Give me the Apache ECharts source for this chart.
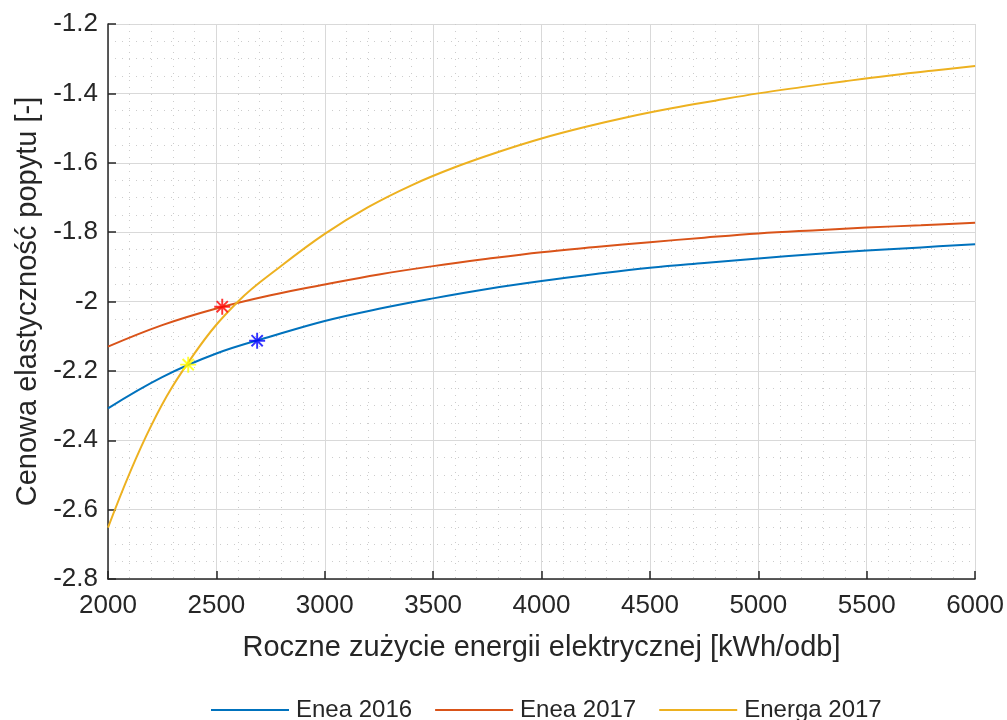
<!DOCTYPE html>
<html>
<head>
<meta charset="utf-8">
<script src="https://cdn.jsdelivr.net/npm/echarts@6/dist/echarts.min.js"></script>
<style>
html,body{margin:0;padding:0;background:#fff;}
#chart{width:1007px;height:720px;}
</style>
</head>
<body>
<div id="chart"></div>
<script>
// ---- data ----
const seriesNames = ['Enea 2016', 'Enea 2017', 'Energa 2017'];
const xTicks = [2000, 2500, 3000, 3500, 4000, 4500, 5000, 5500, 6000];
const yTicks = [-2.8, -2.6, -2.4, -2.2, -2.0, -1.8, -1.6, -1.4, -1.2];

const xEnea = [2000, 2250, 2500, 2750, 3000, 3250, 3500, 3750, 4000, 4250, 4500, 4750, 5000, 5250, 5500, 5750, 6000];
const enea2016 = [-2.308, -2.218, -2.150, -2.101, -2.056, -2.021, -1.991, -1.964, -1.941, -1.921, -1.903, -1.889, -1.876, -1.864, -1.853, -1.844, -1.835];
const enea2017 = [-2.130, -2.068, -2.020, -1.982, -1.951, -1.922, -1.898, -1.877, -1.858, -1.843, -1.829, -1.816, -1.804, -1.795, -1.787, -1.780, -1.773];

const xEnerga = [2000, 2200, 2400, 2600, 2800, 3000, 3200, 3400, 3600, 3800, 4000, 4200, 4400, 4600, 4800, 5000, 5200, 5400, 5600, 5800, 6000];
const energa2017 = [-2.652, -2.357, -2.149, -2.000, -1.897, -1.805, -1.728, -1.665, -1.613, -1.569, -1.530, -1.497, -1.468, -1.443, -1.421, -1.400, -1.382, -1.365, -1.349, -1.335, -1.321];

const markerPoints = [[2527, -2.015], [2688, -2.113], [2370, -2.182]];
const markerColors = ['#FF0000', '#0000FF', '#FFFF00'];

const lineColors = ['#0072BD', '#D95319', '#EDB120'];

// asterisk marker path (four bars, same winding)
const asterisk = 'path://M0 8.8L20 8.8L20 11.2L0 11.2Z M8.8 0L11.2 0L11.2 20L8.8 20Z M3.85 2.15L17.85 16.15L16.15 17.85L2.15 3.85Z M17.85 3.85L3.85 17.85L2.15 16.15L16.15 2.15Z';

const pair = (xs, ys) => xs.map((x, i) => [x, ys[i]]);
const font = 'Liberation Sans, Arial, Helvetica, sans-serif';
const axisColor = '#262626';

const chart = echarts.init(document.getElementById('chart'), null, {renderer: 'canvas'});

const lineSeries = [pair(xEnea, enea2016), pair(xEnea, enea2017), pair(xEnerga, energa2017)].map((d, i) => ({
  name: seriesNames[i],
  type: 'line',
  data: d,
  smooth: 0.4,
  symbol: 'none',
  lineStyle: {color: lineColors[i], width: 2},
  itemStyle: {color: lineColors[i]},
  z: 3
}));

const markerSeries = markerPoints.map((p, i) => ({
  type: 'scatter',
  data: [p],
  symbol: asterisk,
  symbolSize: 16,
  itemStyle: {color: markerColors[i]},
  z: 5,
  silent: true
}));

chart.setOption({
  animation: false,
  backgroundColor: '#ffffff',
  grid: {left: 108, right: 31, top: 24, bottom: 141, containLabel: false},
  legend: {
    data: seriesNames,
    icon: 'rect',
    left: 206,
    top: 693,
    itemWidth: 78,
    itemHeight: 2,
    itemGap: 23,
    textStyle: {fontFamily: font, fontSize: 24, color: axisColor, padding: [0, 0, 0, 2]}
  },
  xAxis: {
    type: 'value',
    min: xTicks[0],
    max: xTicks[xTicks.length - 1],
    interval: 500,
    name: 'Roczne zużycie energii elektrycznej [kWh/odb]',
    nameLocation: 'middle',
    nameGap: 54,
    nameTextStyle: {fontFamily: font, fontSize: 29, color: axisColor},
    axisLine: {lineStyle: {color: axisColor, width: 1.5}},
    axisTick: {inside: true, length: 8, lineStyle: {color: axisColor, width: 1.5}},
    axisLabel: {fontFamily: font, fontSize: 26, color: axisColor, margin: 14,
      formatter: v => String(v)},
    splitLine: {show: true, lineStyle: {color: '#d9d9d9', width: 1}},
    minorTick: {show: false, splitNumber: 5},
    minorSplitLine: {show: true, lineStyle: {color: '#cccccc', width: 1, type: [1, 6]}}
  },
  yAxis: {
    type: 'value',
    min: yTicks[0],
    max: yTicks[yTicks.length - 1],
    interval: 0.2,
    name: 'Cenowa elastyczność popytu [-]',
    nameLocation: 'middle',
    nameGap: 64,
    nameRotate: 90,
    nameTextStyle: {fontFamily: font, fontSize: 29, color: axisColor},
    axisLine: {show: true, lineStyle: {color: axisColor, width: 1.5}},
    axisTick: {show: true, inside: true, length: 8, lineStyle: {color: axisColor, width: 1.5}},
    axisLabel: {fontFamily: font, fontSize: 26, color: axisColor, margin: 10,
      formatter: v => String(+v.toFixed(1))},
    splitLine: {show: true, lineStyle: {color: '#d9d9d9', width: 1}},
    minorTick: {show: false, splitNumber: 4},
    minorSplitLine: {show: true, lineStyle: {color: '#cccccc', width: 1, type: [1, 6]}}
  },
  series: lineSeries.concat(markerSeries)
});
</script>
</body>
</html>
